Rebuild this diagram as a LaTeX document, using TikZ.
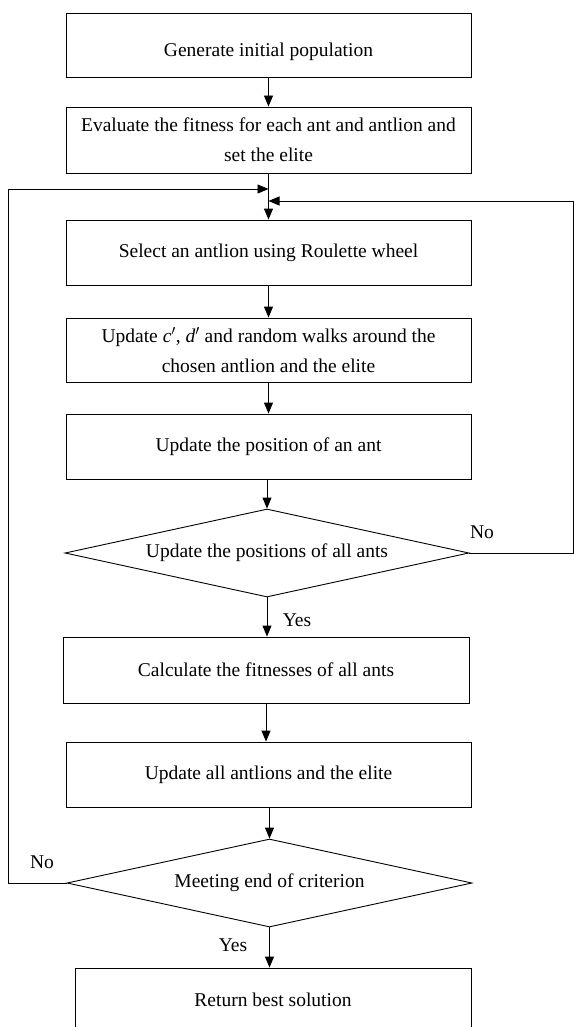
\documentclass[tikz,border=0pt]{standalone}
\usepackage{fontspec}
\setmainfont{Liberation Serif}
\usetikzlibrary{arrows.meta,shapes.geometric}
\begin{document}
\begin{tikzpicture}[x=1pt,y=-1pt,
  every node/.style={font=\fontsize{19.5}{30}\selectfont},
  box/.style={draw,line width=0.9pt,minimum width=405pt,minimum height=64pt,align=center,inner sep=0pt},
  decision/.style={draw,line width=0.9pt,diamond,aspect=4.6,minimum width=404pt,minimum height=88pt,inner sep=0pt},
  lbl/.style={inner sep=0pt},
  link/.style={line width=0.9pt,-{Triangle[length=11pt,width=9pt]}},
  plain/.style={line width=0.9pt}]
\useasboundingbox (0,0) rectangle (573,1027);
\node[box,minimum height=64pt,text height=28pt,text depth=5pt] (b1) at (268.5,45) {Generate initial population};
\node[box,minimum height=66pt] (b2) at (268.5,140) {Evaluate the fitness for each ant and antlion and\\set the elite};
\node[box,minimum height=65pt] (b3) at (268.5,252.5) {Select an antlion using Roulette wheel};
\node[box,minimum height=64pt] (b4) at (268.5,350) {Update \textit{c}$'$, \textit{d}$'$ and random walks around the\\chosen antlion and the elite};
\node[box,minimum height=65pt] (b5) at (268.5,446.5) {Update the position of an ant};
\node[decision] (d1) at (267,553) {Update the positions of all ants};
\node[box,minimum width=406pt,minimum height=66pt] (b6) at (266,670) {Calculate the fitnesses of all ants};
\node[box,minimum height=65pt] (b7) at (268.5,774.5) {Update all antlions and the elite};
\node[decision,minimum width=405pt] (d2) at (269.5,883) {Meeting end of criterion};
\node[box,minimum width=396pt,minimum height=64pt] (b8) at (273,1000) {Return best solution};

\coordinate (jl) at (268.5,189);
\coordinate (jr) at (268.5,201);
\coordinate (lc1) at (8,883);
\coordinate (lc2) at (8,189);
\coordinate (rc1) at (573,553);
\coordinate (rc2) at (573,201);

\draw[link] (b1) -- (b2);
\draw[link] (b2) -- (b3);
\draw[link] (b3) -- (b4);
\draw[link] (b4) -- (b5);
\draw[link] (b5.south -| d1.north) -- (d1.north);
\draw[link] (d1.south) -- (b6.north -| d1.south);
\draw[link] (b6.south) -- (b7.north -| b6.south);
\draw[link] (b7.south -| d2.north) -- (d2.north);
\draw[link] (d2.south) -- (b8.north -| d2.south);
\draw[link] (d2.west) -- (lc1) -- (lc2) -- (jl);
\draw[link] (d1.east) -- (rc1) -- (rc2) -- (jr);

\node[lbl] (no1) at (482,532) {No};
\node[lbl] (yes1) at (297,620) {Yes};
\node[lbl] (no2) at (42,862) {No};
\node[lbl] (yes2) at (233,945) {Yes};
\end{tikzpicture}
\end{document}
